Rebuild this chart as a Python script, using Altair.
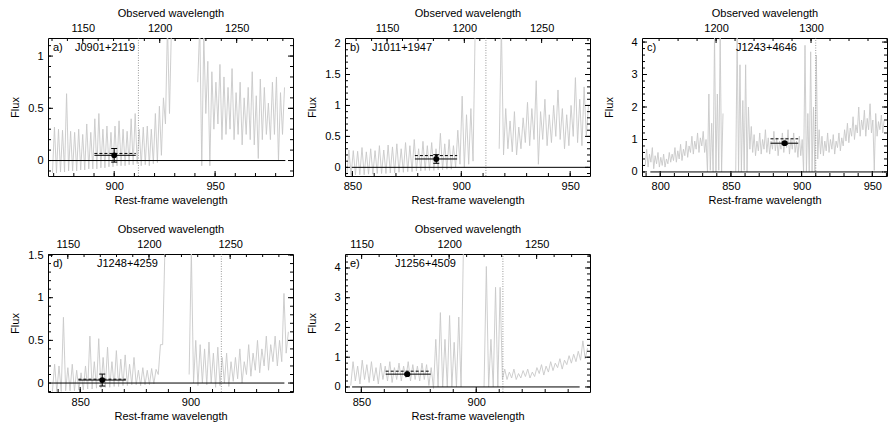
import altair as alt
import pandas as pd

# ---------------- data ----------------
PANEL_TAGS = ["a)", "b)", "c)", "d)", "e)"]
GALAXIES = ["J0901+2119", "J1011+1947", "J1243+4646", "J1248+4259", "J1256+4509"]

REST_DOMAINS = [[867.2, 988.6], [846.6, 959.1], [787.1, 960.4], [835.4, 946.5], [842.9, 949.5]]
OBS_DOMAINS = [[1127.4, 1286.6], [1122.8, 1281.3], [1122.0, 1380.0], [1137.8, 1288.7], [1140.5, 1280.5]]
FLUX_DOMAINS = [[-0.148, 1.173], [-0.14, 2.09], [-0.125, 4.125], [-0.105, 1.512], [-0.17, 4.47]]

REST_TICKS = [[900, 950], [850, 900, 950], [800, 850, 900, 950], [850, 900], [850, 900]]
OBS_TICKS = [[1150, 1200, 1250], [1150, 1200, 1250], [1200, 1300], [1150, 1200, 1250], [1150, 1200, 1250]]
FLUX_TICKS = [[0, 0.5, 1], [0, 0.5, 1, 1.5, 2], [0, 1, 2, 3, 4], [0, 0.5, 1, 1.5], [0, 1, 2, 3, 4]]
FLUX_MINOR = [0.1, 0.1, 0.2, 0.1, 0.2]
REST_MINOR = [10, 10, 10, 10, 10]
OBS_MINOR = [10, 10, 20, 10, 10]

LYMAN_LIMIT = [912.0, 911.3, 910.0, 914.0, 911.6]
ZERO_FROM = [869.5, 849.7, 793.0, 837.7, 846.0]
ZERO_TO = [984.8, 958.0, 957.7, 942.6, 945.0]

POINT_X = [900.0, 888.5, 888.0, 860.0, 870.0]
POINT_Y = [0.05, 0.135, 0.885, 0.035, 0.43]
POINT_YLO = [-0.015, 0.065, 0.85, -0.035, 0.40]
POINT_YHI = [0.115, 0.205, 0.92, 0.105, 0.46]
BAND_LO = [890.2, 878.7, 878.0, 849.2, 860.6]
BAND_HI = [910.7, 898.1, 897.6, 870.7, 880.2]
DASH_Y = [0.068, 0.19, 1.02, 0.045, 0.53]
NAME_OFFSET = [27, 27, 94, 49, 50]

SPEC_START = [870, 848, 790, 838, 846]
SPEC_STEP = 2

A_HI = [0.32, 0.30, 0.29, 0.64, 0.28, 0.27, 0.30, 0.25, 0.35, 0.27, 0.40, 0.45, 0.30, 0.33, 0.27,
        0.33, 0.38, 0.30, 0.28, 0.40, 0.45, 0.30, 0.32, 0.33, 0.30, 0.45, 0.52, 0.60, 1.30, 1.30,
        None, None, None, None, None, None,
        1.30, 1.20, 0.95, 0.85, 0.75, 0.92, 0.80, 0.70, 0.88, 0.65, 0.75, 0.60, 0.70, 0.85, 0.62,
        0.78, 0.70, 0.55, 0.75, 0.80, 0.65, 0.70]
A_LO = [-0.12, -0.12, -0.11, -0.11, -0.10, -0.10, -0.10, -0.09, -0.09, -0.08, -0.08, -0.08, -0.07, -0.07, -0.06,
        -0.06, -0.05, -0.05, -0.05, -0.04, -0.04, -0.03, -0.05, -0.04, -0.05, -0.03, -0.02, 0.05, 0.35, 0.45,
        None, None, None, None, None, None,
        0.75, -0.05, 0.45, -0.05, 0.30, 0.35, 0.20, 0.25, 0.30, 0.20, 0.25, 0.15, 0.25, 0.20, 0.15,
        0.02, 0.20, 0.25, 0.20, 0.25, 0.00, 0.25]

B_HI = [0.28, 0.27, 0.26, 0.32, 0.25, 0.30, 0.27, 0.35, 0.28, 0.36, 0.33, 0.38, 0.30, 0.40, 0.35,
        0.45, 0.30, 0.42, 0.35, 0.40, 0.30, 0.55, 0.38, 0.45, 0.35, 0.60, 1.15, 0.85, 0.95, 2.30,
        None, None, None, None, None,
        2.30, 0.95, 0.75, 0.90, 0.65, 0.80, 1.05, 0.95, 1.40, 0.90, 1.10, 0.85, 1.00, 1.25, 0.95,
        0.85, 1.00, 1.45, 1.10, 1.30, 1.00]
B_LO = [-0.13, -0.13, -0.12, -0.12, -0.12, -0.11, -0.11, -0.10, -0.10, -0.10, -0.09, -0.09, -0.08, -0.08, -0.07,
        -0.07, -0.06, -0.06, -0.05, -0.05, -0.05, -0.04, -0.04, -0.03, -0.03, 0.00, 0.05, 0.00, 0.05, 0.10,
        None, None, None, None, None,
        0.30, 0.20, 0.30, 0.25, 0.20, 0.30, 0.40, 0.35, 0.45, 0.05, 0.45, 0.35, 0.40, 0.50, 0.45,
        0.30, 0.35, 0.50, 0.40, 0.35, 0.50]

C_HI = [0.70, 0.55, 0.75, 0.50, 0.60, 0.45, 0.55, 0.40, 0.60, 0.55, 0.75, 0.65, 0.85, 0.70, 0.95,
        0.80, 1.10, 0.95, 1.20, 1.05, 1.25, 1.00, 2.40, 1.50, 4.20, 2.40, 4.20, 1.80,
        None, None, None, None,
        4.20, 3.30, 2.20, 3.30, 2.00, 1.40, 1.15, 0.95, 1.20, 1.00, 1.30, 1.05, 0.95, 1.25, 1.05,
        0.95, 1.20, 1.05, 1.30, 1.00, 1.20, 0.95, 1.10, 1.00, 3.90, 1.80, 3.70, 2.00, 3.60, 1.30,
        1.10, 0.95, 1.20, 1.00, 1.15, 0.95, 1.20, 1.05, 1.30, 1.50, 1.35, 1.70, 1.45, 2.00, 1.60,
        1.90, 1.65, 2.10, 1.60, 1.80, 1.55, 1.75, 1.60]
C_LO = [0.20, 0.15, 0.30, 0.10, 0.25, 0.15, 0.20, 0.15, 0.25, 0.30, 0.35, 0.30, 0.40, 0.35, 0.50,
        0.45, 0.60, 0.55, 0.70, 0.60, 0.80, 0.60, 0.00, 0.05, 0.00, 0.00, 0.05, 0.00,
        None, None, None, None,
        0.00, 0.00, 0.00, 0.05, 0.00, 0.70, 0.60, 0.50, 0.65, 0.55, 0.70, 0.60, 0.55, 0.70, 0.65,
        0.50, 0.70, 0.60, 0.75, 0.55, 0.70, 0.60, 0.45, 0.50, 0.00, 0.00, 0.00, 0.00, 0.00, 0.40,
        0.55, 0.50, 0.65, 0.60, 0.70, 0.55, 0.75, 0.65, 0.80, 0.95, 0.90, 1.10, 1.00, 1.20, 1.10,
        1.30, 1.10, 1.30, 1.20, 0.05, 1.10, 1.30, 1.20]

D_HI = [0.22, 0.20, 0.77, 0.18, 0.22, 0.15, 0.12, 0.20, 0.55, 0.25, 0.52, 0.30, 0.42, 0.25, 0.38,
        0.28, 0.33, 0.22, 0.30, 0.15, 0.18, 0.15, 0.17, 0.16, 0.45, 1.55,
        None, None, None, None, None,
        1.55, 0.50, 0.45, 0.40, 0.48, 0.35, 0.42, 0.30, 0.35, 0.25, 0.30, 0.40, 0.25, 0.45, 0.35,
        0.50, 0.40, 0.55, 0.45, 0.55, 0.50, 1.05, 0.60]
D_LO = [-0.10, -0.10, -0.10, -0.09, -0.09, -0.09, -0.08, -0.08, -0.07, -0.07, -0.06, -0.06, -0.05, -0.05, -0.04,
        -0.04, -0.03, -0.03, -0.02, -0.02, -0.03, -0.02, -0.02, -0.01, 0.10, 0.45,
        None, None, None, None, None,
        0.10, 0.00, -0.03, 0.00, -0.02, 0.00, -0.05, -0.03, 0.00, -0.04, 0.02, 0.05, 0.00, 0.10, 0.08,
        0.15, 0.12, 0.20, 0.15, 0.25, 0.20, 0.25, 0.35]

E_HI = [0.85, 0.70, 0.90, 0.75, 0.85, 0.65, 0.80, 0.70, 0.85, 0.65, 0.80, 0.70, 0.85, 0.75, 0.70,
        0.80, 0.75, 0.65, 1.60, 2.50, 1.60, 2.40, 1.50, 2.35, 4.60,
        None, None, None, None,
        4.05, 1.60, 3.35, 3.35, 0.60, 0.50, 0.60, 0.45, 0.55, 0.60, 0.50, 0.65, 0.75, 0.70, 0.85,
        0.80, 0.95, 0.90, 1.05, 1.10, 1.20, 1.55, 1.30]
E_LO = [0.05, 0.20, 0.10, 0.25, 0.15, 0.20, 0.10, 0.25, 0.20, 0.15, 0.25, 0.20, 0.30, 0.20, 0.25,
        0.20, 0.25, 0.05, -0.05, 0.00, 0.00, 0.00, 0.00, 0.00, 0.00,
        None, None, None, None,
        0.00, 0.00, 0.00, 0.00, 0.25, 0.25, 0.30, 0.25, 0.30, 0.35, 0.30, 0.35, 0.45, 0.40, 0.50,
        0.55, 0.65, 0.60, 0.75, 0.80, 0.85, 0.90, 0.95]

SPEC_HI = [A_HI, B_HI, C_HI, D_HI, E_HI]
SPEC_LO = [A_LO, B_LO, C_LO, D_LO, E_LO]

# ---------------- styling ----------------
W, H = 245, 138
FONT = "Liberation Sans"
GRAY = "#c8c8c8"
MAJ, MIN = 5, 3


def spectrum_frame(i):
    rows, seg, gap = [], 0, False
    for k, (hi, lo) in enumerate(zip(SPEC_HI[i], SPEC_LO[i])):
        w = SPEC_START[i] + k * SPEC_STEP
        if hi is None:
            if not gap:
                seg += 1
            gap = True
            continue
        gap = False
        rows.append({"w": w - 0.6, "f": lo, "seg": seg})
        rows.append({"w": w + 0.4, "f": hi, "seg": seg})
    return pd.DataFrame(rows)


def minor_values(domain, step):
    k = int(domain[0] // step) + 1
    vals = []
    while k * step <= domain[1]:
        vals.append(round(k * step, 4))
        k += 1
    return vals


def panel(i):
    rd, od, fd = REST_DOMAINS[i], OBS_DOMAINS[i], FLUX_DOMAINS[i]
    xs = alt.Scale(domain=rd, nice=False, zero=False)
    obs = alt.Scale(domain=od, nice=False, zero=False)
    ys = alt.Scale(domain=fd, nice=False, zero=False)

    ax_bottom = alt.Axis(orient="bottom", values=REST_TICKS[i], format="d", title="Rest-frame wavelength",
                         ticks=False, tickSize=0, domain=False, grid=False, labelPadding=4, titlePadding=3)
    ax_top = alt.Axis(orient="top", values=OBS_TICKS[i], format="d", title="Observed wavelength",
                      ticks=False, tickSize=0, domain=False, grid=False, labelPadding=5, titlePadding=4)
    ax_left = alt.Axis(orient="left", values=FLUX_TICKS[i], format="~g", title="Flux",
                       ticks=False, tickSize=0, domain=False, grid=False, labelPadding=5,
                       titlePadding=6, minExtent=22, maxExtent=22)

    X = lambda f: alt.X(f, scale=xs, axis=None)
    Y = lambda f: alt.Y(f, scale=ys, axis=None)

    layers = []
    spec = spectrum_frame(i)
    layers.append(alt.Chart(spec).mark_line(color=GRAY, strokeWidth=0.9, clip=True)
                  .encode(x=X("w:Q"), y=alt.Y("f:Q", scale=ys, axis=ax_left), detail="seg:N"))

    # Lyman limit (full height)
    layers.append(alt.Chart(pd.DataFrame({"ll": [LYMAN_LIMIT[i]], "y0": [fd[0]], "y1": [fd[1]]}))
                  .mark_rule(color="#9a9a9a", strokeWidth=1, strokeDash=[1, 1.5])
                  .encode(x=X("ll:Q"), y=Y("y0:Q"), y2="y1:Q"))

    # zero line
    layers.append(alt.Chart(pd.DataFrame({"a": [ZERO_FROM[i]], "b": [ZERO_TO[i]], "z": [0.0]}))
                  .mark_rule(color="black", strokeWidth=1)
                  .encode(x=X("a:Q"), x2="b:Q", y=Y("z:Q")))

    pt = pd.DataFrame({"x": [POINT_X[i]], "y": [POINT_Y[i]], "ylo": [POINT_YLO[i]], "yhi": [POINT_YHI[i]],
                       "xlo": [BAND_LO[i]], "xhi": [BAND_HI[i]], "yd": [DASH_Y[i]]})
    base = alt.Chart(pt)
    layers.append(base.mark_rule(color="black", strokeWidth=1, strokeDash=[3, 2])
                  .encode(x=X("xlo:Q"), x2="xhi:Q", y=Y("yd:Q")))
    layers.append(base.mark_rule(color="black", strokeWidth=1)
                  .encode(x=X("xlo:Q"), x2="xhi:Q", y=Y("y:Q")))
    layers.append(base.mark_rule(color="black", strokeWidth=1)
                  .encode(x=X("x:Q"), y=Y("ylo:Q"), y2="yhi:Q"))
    layers.append(base.mark_tick(color="black", orient="horizontal", size=6, thickness=1, opacity=1)
                  .encode(x=X("x:Q"), y=Y("ylo:Q")))
    layers.append(base.mark_tick(color="black", orient="horizontal", size=6, thickness=1, opacity=1)
                  .encode(x=X("x:Q"), y=Y("yhi:Q")))
    layers.append(base.mark_circle(color="black", opacity=1, size=34)
                  .encode(x=X("x:Q"), y=Y("y:Q")))

    # inward ticks: centred on the frame edge, clipped to the plot
    def vticks(vals, size, scale, ypos, ax=None):
        df = pd.DataFrame({"v": vals, "e": [ypos] * len(vals)})
        return (alt.Chart(df).mark_tick(color="black", orient="vertical", size=2 * size, thickness=1,
                                        opacity=1, clip=True)
                .encode(x=alt.X("v:Q", scale=scale, axis=ax), y=Y("e:Q")))

    def hticks(vals, size, xpos):
        df = pd.DataFrame({"v": vals, "e": [xpos] * len(vals)})
        return (alt.Chart(df).mark_tick(color="black", orient="horizontal", size=2 * size, thickness=1,
                                        opacity=1, clip=True)
                .encode(y=Y("v:Q"), x=X("e:Q")))

    layers.append(vticks(REST_TICKS[i], MAJ, xs, fd[0], ax_bottom))
    layers.append(vticks(minor_values(rd, REST_MINOR[i]), MIN, xs, fd[0]))
    layers.append(vticks(OBS_TICKS[i], MAJ, obs, fd[1], ax_top))
    layers.append(vticks(minor_values(od, OBS_MINOR[i]), MIN, obs, fd[1]))
    fmin = minor_values(fd, FLUX_MINOR[i])
    layers.append(hticks(FLUX_TICKS[i], MAJ, rd[0]))
    layers.append(hticks(FLUX_TICKS[i], MAJ, rd[1]))
    layers.append(hticks(fmin, MIN, rd[0]))
    layers.append(hticks(fmin, MIN, rd[1]))

    # labels (pixel offsets from the top-left corner converted to data units)
    ty = fd[1] - 10 * (fd[1] - fd[0]) / H
    tx1 = rd[0] + 5 * (rd[1] - rd[0]) / W
    tx2 = rd[0] + NAME_OFFSET[i] * (rd[1] - rd[0]) / W
    lab = pd.DataFrame({"t": [PANEL_TAGS[i], GALAXIES[i]], "x": [tx1, tx2], "y": [ty, ty]})
    layers.append(alt.Chart(lab)
                  .mark_text(align="left", baseline="middle", font=FONT, fontSize=11, color="black")
                  .encode(text="t:N", x=X("x:Q"), y=Y("y:Q")))

    return (alt.layer(*layers)
            .resolve_scale(x="independent")
            .resolve_axis(x="independent", y="independent")
            .properties(width=W, height=H))


chart = alt.concat(*[panel(i) for i in range(5)], columns=3, spacing={"row": 16, "column": 11})
chart = (chart
         .configure_view(stroke="black", strokeWidth=1)
         .configure_axis(labelFont=FONT, titleFont=FONT, labelFontSize=11, titleFontSize=11,
                         titleFontWeight="normal", labelColor="black", titleColor="black", grid=False)
         .properties(padding={"left": 8, "top": 6, "right": 0, "bottom": 0}, background="white"))

chart.save("out.html", embed_options={"renderer": "svg", "actions": False})
